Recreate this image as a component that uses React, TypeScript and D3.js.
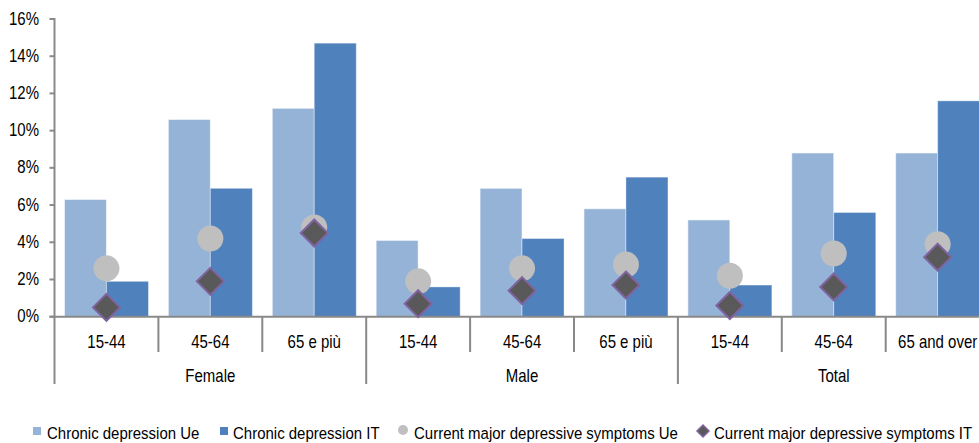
import React, { useEffect } from 'react';
import * as d3 from 'd3';

// Depression prevalence by sex and age band (percent)
const groups = ['Female', 'Male', 'Total'];
const ageBands = ['15-44', '45-64', '65 e più', '15-44', '45-64', '65 e più', '15-44', '45-64', '65 and over'];
const chronicUe = [6.3, 10.6, 11.2, 4.1, 6.9, 5.8, 5.2, 8.8, 8.8];
const chronicIt = [1.9, 6.9, 14.7, 1.6, 4.2, 7.5, 1.7, 5.6, 11.6];
const symptomsUe = [2.6, 4.2, 4.8, 1.9, 2.6, 2.8, 2.2, 3.4, 3.9];
const symptomsIt = [0.5, 1.9, 4.5, 0.7, 1.4, 1.7, 0.6, 1.6, 3.2];
const yTicks = [0, 2, 4, 6, 8, 10, 12, 14, 16];
const seriesNames = [
  'Chronic depression Ue',
  'Chronic depression IT',
  'Current major depressive symptoms Ue',
  'Current major depressive symptoms IT',
];

const W = 979;
const H = 443;
const LIGHT = '#95B3D7';
const DARK = '#4F81BD';
const GREY = '#BFBFBF';
const DIAMOND = '#595959';
const PURPLE = '#8064A2';
const AXIS = '#898989';
const FONT = '"Liberation Sans", Arial, sans-serif';

const left = 54.5;
const step = 103.9;

const x = d3
  .scaleBand<number>()
  .domain(d3.range(ageBands.length))
  .range([left, left + step * ageBands.length])
  .paddingInner(0)
  .paddingOuter(0);

const xSub = d3
  .scaleBand<string>()
  .domain(['ue', 'it'])
  .range([0, x.bandwidth()])
  .paddingInner(0)
  .paddingOuter(0.237);

const y = d3.scaleLinear().domain([0, 16]).range([316.7, 19]);

const diamondPath = (cx: number, cy: number, r: number) =>
  `M${cx},${cy - r}L${cx + r},${cy}L${cx},${cy + r}L${cx - r},${cy}Z`;

function Label(props: {
  x: number;
  y: number;
  anchor?: 'start' | 'middle' | 'end';
  size?: number;
  stretch?: number;
  children: React.ReactNode;
}) {
  const { anchor = 'middle', size = 15, stretch = 1.2 } = props;
  return (
    <text
      transform={`translate(${props.x},${props.y}) scale(1,${stretch})`}
      textAnchor={anchor}
      fontFamily={FONT}
      fontSize={size}
      fill="#000"
    >
      {props.children}
    </text>
  );
}

export default function App() {
  useEffect(() => {
    document.body.style.margin = '0';
  }, []);

  const y0 = y(0);
  const groupBounds = [0, 3, 6, 9];

  return (
    <svg
      width={W}
      height={H}
      viewBox={`0 0 ${W} ${H}`}
      style={{ display: 'block', position: 'absolute', left: 0, top: 0, background: '#fff' }}
    >
      <rect width={W} height={H} fill="#fff" />

      {/* bars */}
      {ageBands.map((_, i) => {
        const bx = x(i)!;
        return (
          <g key={`bars-${i}`}>
            <rect
              x={bx + xSub('ue')!}
              y={y(chronicUe[i])}
              width={xSub.bandwidth()}
              height={y0 - y(chronicUe[i])}
              fill={LIGHT}
              stroke="rgba(255,255,255,0.55)"
              strokeWidth={1}
            />
            <rect
              x={bx + xSub('it')!}
              y={y(chronicIt[i])}
              width={xSub.bandwidth()}
              height={y0 - y(chronicIt[i])}
              fill={DARK}
              stroke="rgba(255,255,255,0.35)"
              strokeWidth={1}
            />
          </g>
        );
      })}

      {/* y axis */}
      <line x1={left} x2={left} y1={y(16) - 1} y2={y0} stroke={AXIS} strokeWidth={2} />
      {yTicks.map((t) => (
        <g key={`yt-${t}`}>
          <line x1={left - 5} x2={left} y1={y(t)} y2={y(t)} stroke={AXIS} strokeWidth={2} />
          <Label x={39} y={y(t) + 5.5} anchor="end">{`${t}%`}</Label>
        </g>
      ))}

      {/* x axis */}
      <line x1={left - 5} x2={W + 20} y1={y0} y2={y0} stroke={AXIS} strokeWidth={2} />
      {d3.range(ageBands.length + 1).map((i) => {
        const isGroup = groupBounds.includes(i);
        const xx = i === ageBands.length ? x(i - 1)! + step : x(i)!;
        return (
          <line
            key={`xt-${i}`}
            x1={xx}
            x2={xx}
            y1={y0}
            y2={isGroup ? 384 : 352}
            stroke={AXIS}
            strokeWidth={2}
          />
        );
      })}
      {ageBands.map((a, i) => (
        <Label key={`xl-${i}`} x={x(i)! + step / 2} y={348}>
          {a}
        </Label>
      ))}
      {groups.map((g, gi) => {
        const x0 = x(groupBounds[gi])!;
        const x1 = x(groupBounds[gi + 1] - 1)! + step;
        return (
          <Label key={`gl-${g}`} x={(x0 + x1) / 2} y={382}>
            {g}
          </Label>
        );
      })}

      {/* markers */}
      {ageBands.map((_, i) => {
        const cx = x(i)! + step / 2;
        return (
          <g key={`mk-${i}`}>
            <circle cx={cx} cy={y(symptomsUe[i])} r={13} fill={GREY} />
            <path
              d={diamondPath(cx, y(symptomsIt[i]), 13.5)}
              fill={DIAMOND}
              stroke={PURPLE}
              strokeWidth={2}
            />
          </g>
        );
      })}

      {/* legend */}
      <g>
        <rect x={33} y={427} width={8} height={8} fill={LIGHT} />
        <Label x={47} y={439} anchor="start" stretch={1.1}>{seriesNames[0]}</Label>
        <rect x={220} y={427} width={8} height={8} fill={DARK} />
        <Label x={233} y={439} anchor="start" stretch={1.1}>{seriesNames[1]}</Label>
        <circle cx={403} cy={430} r={5} fill={GREY} />
        <Label x={414} y={439} anchor="start" stretch={1.1}>{seriesNames[2]}</Label>
        <path d={diamondPath(703, 431, 6)} fill={DIAMOND} stroke={PURPLE} strokeWidth={1.5} />
        <Label x={714} y={439} anchor="start" stretch={1.1}>{seriesNames[3]}</Label>
      </g>
    </svg>
  );
}
